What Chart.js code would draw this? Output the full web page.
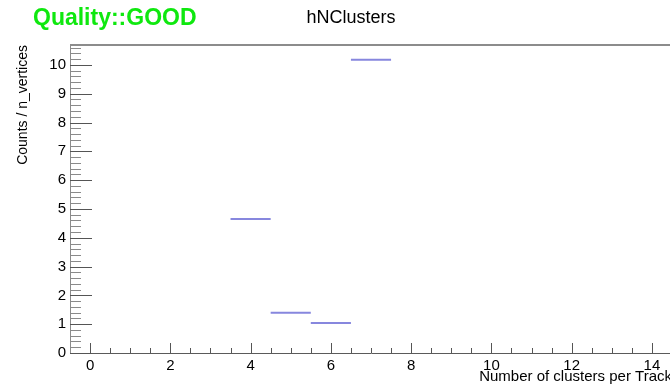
<!DOCTYPE html>
<html>
<head>
<meta charset="utf-8">
<script src="https://cdn.jsdelivr.net/npm/chart.js@4/dist/chart.umd.min.js"></script>
<style>
  html, body { margin: 0; padding: 0; background: #fff; overflow: hidden; }
  canvas { display: block; }
</style>
</head>
<body>
<canvas id="c" width="674" height="386"></canvas>
<script>
// hNClusters: number of clusters per track, normalised per vertex
const binCenters = [0, 1, 2, 3, 4, 5, 6, 7, 8, 9, 10, 11, 12, 13, 14];
const binCounts  = [0, 0, 0, 0, 4.65, 1.40, 1.04, 10.18, 0, 0, 0, 0, 0, 0, 0];
const binWidth = 1;
const xTickValues = [0, 2, 4, 6, 8, 10, 12, 14];
const yTickValues = [0, 1, 2, 3, 4, 5, 6, 7, 8, 9, 10];
const xRange = [-0.5, 14.5];
const yRange = [0, 10.69];

const titleText = 'hNClusters';
const qualityText = 'Quality::GOOD';
const xTitle = 'Number of clusters per Track';
const yTitle = 'Counts / n_vertices';

// each filled bin becomes a flat segment, separated by gaps
const segments = [];
binCenters.forEach((c, i) => {
  const v = binCounts[i];
  if (v > 0) {
    segments.push({ x: c - binWidth / 2, y: v });
    segments.push({ x: c + binWidth / 2, y: v });
    segments.push({ x: c + binWidth / 2, y: null });
  }
});

const FONT = '"Liberation Sans", Arial, Helvetica, sans-serif';

const frame = {
  id: 'frame',
  beforeDraw(chart) {
    const ctx = chart.ctx;
    ctx.save();
    ctx.fillStyle = '#ffffff';
    ctx.fillRect(0, 0, chart.width, chart.height);
    ctx.restore();
  },
  afterDraw(chart) {
    const ctx = chart.ctx;
    const a = chart.chartArea;
    const xs = chart.scales.x, ys = chart.scales.y;
    ctx.save();
    // top frame line
    ctx.strokeStyle = '#8c8c8c';
    ctx.lineWidth = 2;
    ctx.beginPath();
    ctx.moveTo(a.left, a.top);
    ctx.lineTo(a.right, a.top);
    ctx.stroke();

    ctx.lineWidth = 1;
    // y ticks, pointing into the frame
    for (let k = 0; k <= 53; k++) {
      const v = k * 0.2;
      if (v > yRange[1]) break;
      const major = k % 5 === 0;
      const py = Math.round(ys.getPixelForValue(v)) + 0.5;
      ctx.strokeStyle = major ? '#555555' : '#8a8a8a';
      ctx.beginPath();
      ctx.moveTo(a.left, py);
      ctx.lineTo(a.left + (major ? 22 : 11), py);
      ctx.stroke();
    }
    // x ticks
    ctx.strokeStyle = '#555555';
    for (let k = 0; k <= 29; k++) {
      const v = k * 0.5;
      if (v > xRange[1]) break;
      const major = xTickValues.includes(v);
      const px = Math.round(xs.getPixelForValue(v)) + 0.5;
      ctx.beginPath();
      ctx.moveTo(px, a.bottom);
      ctx.lineTo(px, a.bottom - (major ? 10 : 5));
      ctx.stroke();
    }

    // titles
    ctx.textBaseline = 'middle';
    ctx.fillStyle = '#0fe80f';
    ctx.font = 'bold 23px ' + FONT;
    ctx.textAlign = 'left';
    ctx.fillText(qualityText, 33, 19);
    ctx.fillStyle = '#000000';
    ctx.font = '18px ' + FONT;
    ctx.textAlign = 'center';
    ctx.fillText(titleText, 351, 18);
    ctx.restore();
  }
};

new Chart(document.getElementById('c'), {
  type: 'line',
  data: {
    datasets: [{
      data: segments,
      borderColor: 'rgb(135,135,222)',
      borderWidth: 2,
      pointRadius: 0,
      spanGaps: false,
      tension: 0,
      fill: false
    }]
  },
  options: {
    responsive: false,
    animation: false,
    devicePixelRatio: 1,
    layout: { padding: { top: 45, right: 2, left: 0, bottom: 0 } },
    plugins: { legend: { display: false }, title: { display: false }, tooltip: { enabled: false } },
    scales: {
      x: {
        type: 'linear',
        min: xRange[0],
        max: xRange[1],
        afterBuildTicks: s => { s.ticks = xTickValues.map(v => ({ value: v })); },
        afterFit: s => { s.height = 33; },
        grid: { display: false, drawTicks: false },
        border: { display: true, color: '#5a5a5a', width: 1 },
        ticks: { color: '#000', font: { family: FONT, size: 15 }, padding: 4, maxRotation: 0, autoSkip: false },
        title: { display: true, text: xTitle, align: 'end', color: '#000', font: { family: FONT, size: 15 }, padding: { top: 0, bottom: 0 } }
      },
      y: {
        type: 'linear',
        min: yRange[0],
        max: yRange[1],
        afterBuildTicks: s => { s.ticks = yTickValues.map(v => ({ value: v })); },
        afterFit: s => { s.width = 70; },
        grid: { display: false, drawTicks: false },
        border: { display: true, color: '#8c8c8c', width: 1 },
        ticks: { color: '#000', font: { family: FONT, size: 15 }, padding: 4, autoSkip: false },
        title: { display: true, text: yTitle, align: 'end', color: '#000', font: { family: FONT, size: 14 }, padding: { top: 15, bottom: 0 } }
      }
    }
  },
  plugins: [frame]
});
</script>
</body>
</html>
